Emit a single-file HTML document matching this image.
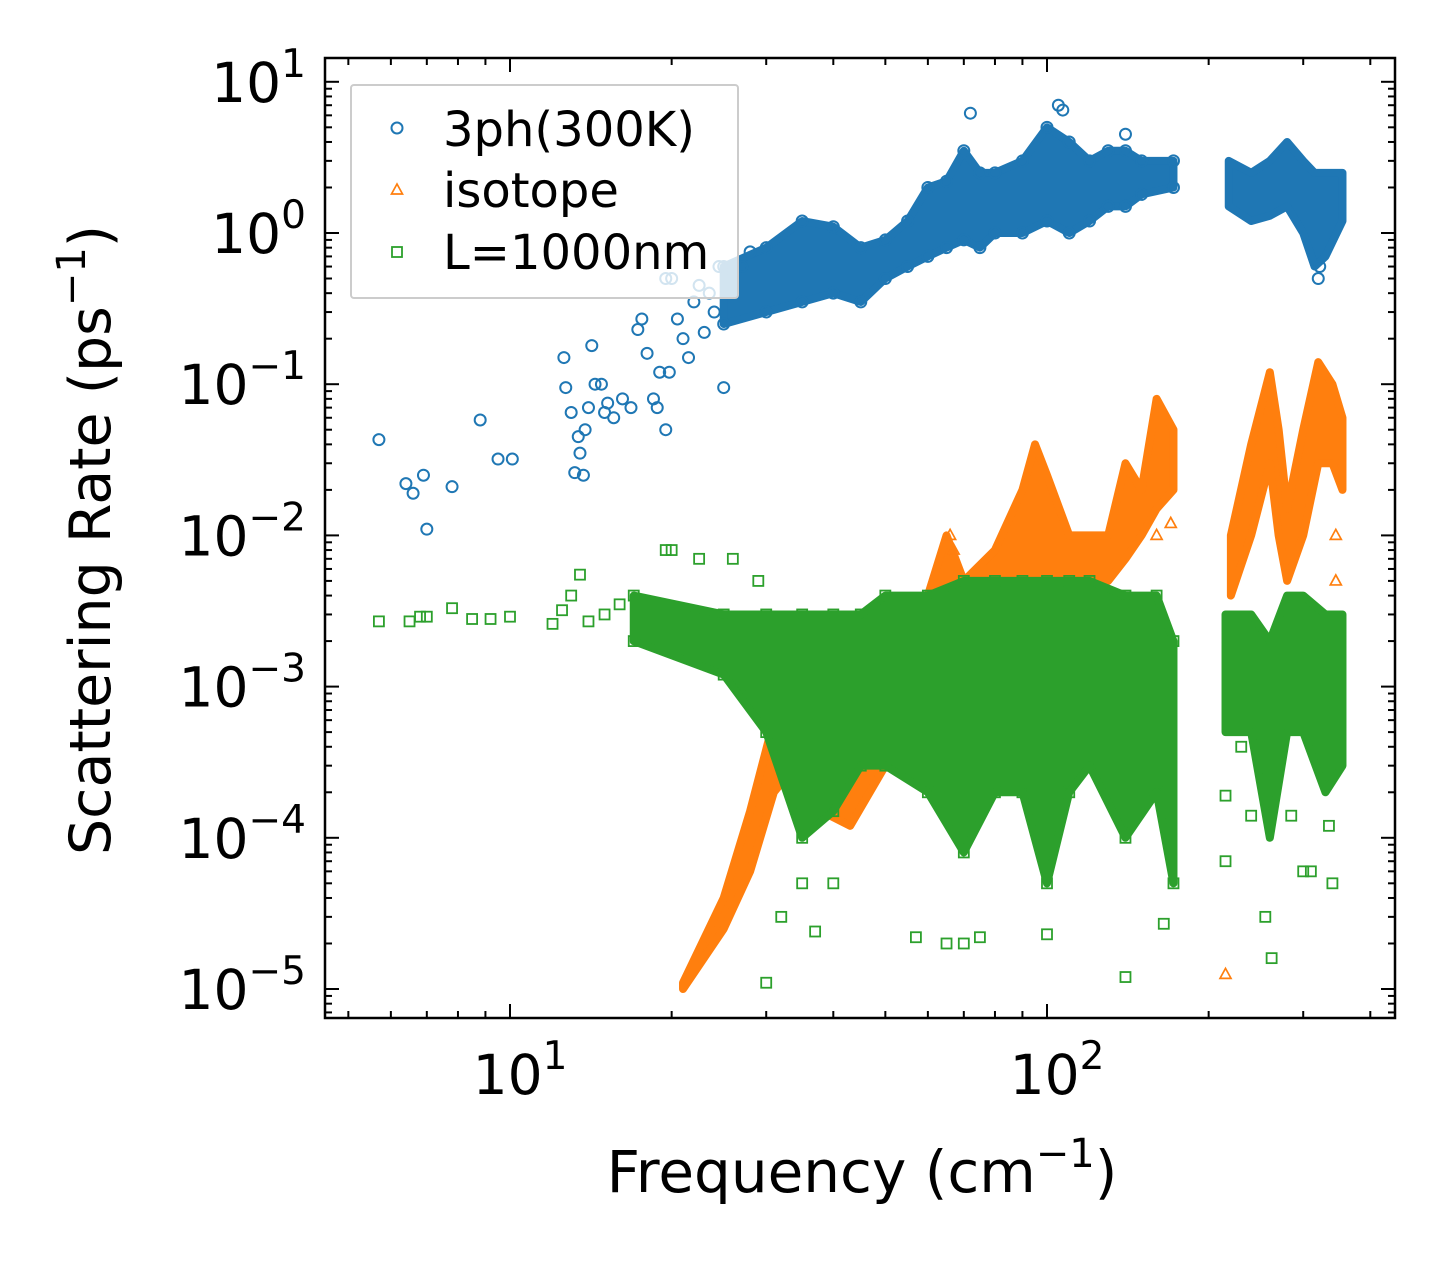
<!DOCTYPE html>
<html><head><meta charset="utf-8"><style>
html,body{margin:0;padding:0;background:#fff}
svg{display:block;font-family:"DejaVu Sans","Liberation Sans",sans-serif}
</style></head><body>
<svg id="c" width="1455" height="1266" viewBox="0 0 1455 1266">
<rect width="1455" height="1266" fill="#fff"/>
<g id="plot"></g>
<g id="axes"></g>
</svg>
<script>
// ---- data ----
const blueBandF  = [25,30,35,40,45,50,55,60,65,70,75,80,90,100,110,120,130,140,150,172];
const blueBandLo = [0.25,0.3,0.35,0.4,0.35,0.5,0.6,0.7,0.8,0.9,0.8,1.0,1.0,1.2,1.0,1.2,1.5,1.5,1.8,2.0];
const blueBandHi = [0.6,0.8,1.2,1.1,0.8,0.9,1.2,2.0,2.2,3.5,2.5,2.5,3.0,5.0,4.0,3.0,3.5,3.5,3.0,3.0];
const blueBand2F  = [218,240,260,280,300,315,330,355];
const blueBand2Lo = [1.5,1.2,1.3,1.5,1.0,0.6,0.7,1.2];
const blueBand2Hi = [3.0,2.5,3.0,4.0,3.0,2.5,2.5,2.5];
const blueF = [5.7,6.4,6.6,6.9,7.0,7.8,8.8,9.5,10.1,12.6,12.7,13,13.2,13.4,13.5,13.7,13.8,14,14.2,14.4,14.8,15,15.2,15.6,16.2,16.8,17.3,17.6,18,18.5,18.8,19,19.5,19.8,19.5,20,20.5,21,21.5,22,22.5,23,23.5,24,24.5,25,26,27,28,72,105,107,140,320,322];
const blueR = [0.043,0.022,0.019,0.025,0.011,0.021,0.058,0.032,0.032,0.15,0.095,0.065,0.026,0.045,0.035,0.025,0.05,0.07,0.18,0.1,0.1,0.065,0.075,0.06,0.08,0.07,0.23,0.27,0.16,0.08,0.07,0.12,0.05,0.12,0.5,0.5,0.27,0.2,0.15,0.35,0.45,0.22,0.4,0.3,0.6,0.095,0.5,0.6,0.75,6.2,7.0,6.5,4.5,0.5,0.6];

const orBandF  = [21,25,28,31,34,38,43,50,60,65,70,80,90,95,100,110,130,140,150,160,172];
const orBandLo = [1e-5,2.5e-5,6e-5,2e-4,3e-4,1.5e-4,1.2e-4,3e-4,6e-4,1e-3,1e-3,2e-3,4e-3,5e-3,5e-3,5e-3,5e-3,7e-3,1e-2,1.5e-2,2e-2];
const orBandHi = [1.1e-5,4e-5,1.5e-4,6e-4,2e-3,1e-3,1e-3,2e-3,4e-3,1e-2,5e-3,8e-3,2e-2,4e-2,2.5e-2,1e-2,1e-2,3e-2,2e-2,8e-2,5e-2];
const orBand2F  = [220,240,260,270,280,300,320,340,355];
const orBand2Lo = [4e-3,1e-2,3e-2,1e-2,5e-3,1e-2,3e-2,3e-2,2e-2];
const orBand2Hi = [1e-2,4e-2,1.2e-1,5e-2,1.5e-2,5e-2,1.4e-1,1e-1,6e-2];
const orF = [215,345,345,350,170,160,66,67];
const orR = [1.25e-5,1e-2,5e-3,1.5e-3,1.2e-2,1e-2,1e-2,8e-3];

const grBandF  = [17,25,30,35,40,45,50,60,70,80,90,100,110,120,140,160,172];
const grBandLo = [2e-3,1.2e-3,5e-4,1e-4,1.5e-4,3e-4,3e-4,2e-4,8e-5,2e-4,2e-4,5e-5,2e-4,3e-4,1e-4,2e-4,5e-5];
const grBandHi = [4e-3,3e-3,3e-3,3e-3,3e-3,3e-3,4e-3,4e-3,5e-3,5e-3,5e-3,5e-3,5e-3,5e-3,4e-3,4e-3,2e-3];
const grBand2F  = [215,240,260,280,300,330,355];
const grBand2Lo = [5e-4,5e-4,1e-4,5e-4,5e-4,2e-4,3e-4];
const grBand2Hi = [3e-3,3e-3,2e-3,4e-3,4e-3,3e-3,3e-3];
const grF = [5.7,6.5,6.8,7,7.8,8.5,9.2,10,12,12.5,13,13.5,14,15,16,19.5,20,22.5,26,29,30,32,35,37,40,57,65,70,75,100,140,165,215,215,230,240,255,262,285,300,310,335,340,27,30,32];
const grR = [2.7e-3,2.7e-3,2.9e-3,2.9e-3,3.3e-3,2.8e-3,2.8e-3,2.9e-3,2.6e-3,3.2e-3,4e-3,5.5e-3,2.7e-3,3e-3,3.5e-3,8e-3,8e-3,7e-3,7e-3,5e-3,1.1e-5,3e-5,5e-5,2.4e-5,5e-5,2.2e-5,2e-5,2e-5,2.2e-5,2.3e-5,1.2e-5,2.7e-5,7e-5,1.9e-4,4e-4,1.4e-4,3e-5,1.6e-5,1.4e-4,6e-5,6e-5,1.2e-4,5e-5,1e-3,1e-3,4e-4];

const xTickExp = [1,2];
const yTickExp = [1,0,-1,-2,-3,-4,-5];

// ---- axes ----
const L=325,R=1395,T=58,B=1018;
const X0=510, XDEC=537, Y0=233, YDEC=151.2;
const sx = f => X0 + (Math.log10(f)-1)*XDEC;
const sy = v => Y0 - Math.log10(v)*YDEC;
const NS="http://www.w3.org/2000/svg";
const plot=document.getElementById('plot'), axes=document.getElementById('axes');
function mk(tag,attrs,parent){const e=document.createElementNS(NS,tag);for(const k in attrs)e.setAttribute(k,attrs[k]);parent.appendChild(e);return e;}

const clip=mk('clipPath',{id:'cp'},document.getElementById('c'));
mk('rect',{x:L,y:T,width:R-L,height:B-T},clip);
plot.setAttribute('clip-path','url(#cp)');

const BLUE='#1f77b4',OR='#ff7f0e',GR='#2ca02c';
function band(F,lo,hi,color,name){
  let d='M'+F.map((f,i)=>sx(f)+','+sy(hi[i])).join('L');
  d+='L'+F.slice().reverse().map((f,j)=>{const i=F.length-1-j;return sx(f)+','+sy(lo[i]);}).join('L')+'Z';
  const p=mk('path',{d:d,fill:color,stroke:color,'stroke-width':8,'stroke-linejoin':'round'},plot);
  
  
}
function marker(type,x,y,color,parent){
  let e;
  if(type==='o') e=mk('circle',{cx:x,cy:y,r:5.5,fill:'none',stroke:color,'stroke-width':2},parent);
  else if(type==='^') e=mk('path',{d:`M${x},${y-6}L${x+5.5},${y+4}L${x-5.5},${y+4}Z`,fill:'none',stroke:color,'stroke-width':1.7},parent);
  else e=mk('rect',{x:x-5,y:y-5,width:10,height:10,fill:'none',stroke:color,'stroke-width':1.8},parent);
  return e;
}
function pts(F,V,type,color,name){
  F.forEach((f,i)=>{const e=marker(type,sx(f),sy(V[i]),color,plot);
    
    });
}
function bandEdges(F,lo,hi,type,color,name){
  F.forEach((f,i)=>{[lo[i],hi[i]].forEach(v=>{const e=marker(type,sx(f),sy(v),color,plot);
    
    });});
}
band(blueBandF,blueBandLo,blueBandHi,BLUE,'3ph-band');
band(blueBand2F,blueBand2Lo,blueBand2Hi,BLUE,'3ph-band-high');
bandEdges(blueBandF,blueBandLo,blueBandHi,'o',BLUE,'3ph-point');
pts(blueF,blueR,'o',BLUE,'3ph-point');
band(orBandF,orBandLo,orBandHi,OR,'isotope-band');
band(orBand2F,orBand2Lo,orBand2Hi,OR,'isotope-band-high');
pts(orF,orR,'^',OR,'isotope-point');
band(grBandF,grBandLo,grBandHi,GR,'boundary-band');
band(grBand2F,grBand2Lo,grBand2Hi,GR,'boundary-band-high');
bandEdges(grBandF,grBandLo,grBandHi,'s',GR,'boundary-point');
pts(grF,grR,'s',GR,'boundary-point');

// frame
mk('rect',{x:L,y:T,width:R-L,height:B-T,fill:'none',stroke:'#000','stroke-width':2.5},axes);
for(let e=0;e<=2;e++){for(let m=1;m<=9;m++){const f=m*Math.pow(10,e);const x=sx(f);if(x<L||x>R)continue;
  const len=m===1?14:7;
  mk('line',{x1:x,x2:x,y1:B,y2:B-len,stroke:'#000','stroke-width':2},axes);
  mk('line',{x1:x,x2:x,y1:T,y2:T+len,stroke:'#000','stroke-width':2},axes);}}
for(let e=-6;e<=1;e++){for(let m=1;m<=9;m++){const v=m*Math.pow(10,e);const y=sy(v);if(y<T||y>B)continue;
  const len=m===1?14:7;
  mk('line',{x1:L,x2:L+len,y1:y,y2:y,stroke:'#000','stroke-width':2},axes);
  mk('line',{x1:R,x2:R-len,y1:y,y2:y,stroke:'#000','stroke-width':2},axes);}}
function powLabel(x,y,exp,anchor,name){
  const t=mk('text',{x:x,y:y,'font-size':55,'text-anchor':anchor,fill:'#000'},axes);
  
  
  const a=document.createElementNS(NS,'tspan');a.textContent='10';t.appendChild(a);
  const b=document.createElementNS(NS,'tspan');b.setAttribute('dy','-25');b.setAttribute('font-size','39');
  b.textContent=(exp<0?'\u2212'+(-exp):String(exp));t.appendChild(b);
}
xTickExp.forEach(e=>powLabel(sx(Math.pow(10,e))+10,1094,e,'middle','x-tick-label'));
yTickExp.forEach(e=>powLabel(306,sy(Math.pow(10,e))+20,e,'end','y-tick-label'));
</script>
<svg style="position:absolute;left:0;top:0" width="1455" height="1266">
<text x="862" y="1192" font-size="58" text-anchor="middle" font-family="DejaVu Sans, Liberation Sans, sans-serif">Frequency (cm<tspan dy="-25" font-size="40">−1</tspan><tspan dy="25">)</tspan></text>
<text transform="translate(110,540) rotate(-90)" font-size="57" text-anchor="middle" font-family="DejaVu Sans, Liberation Sans, sans-serif">Scattering Rate (ps<tspan dy="-25" font-size="40">−1</tspan><tspan dy="25">)</tspan></text>
<g>
<rect x="351" y="85" width="387" height="213" fill="#fff" fill-opacity="0.8" stroke="#ccc" stroke-width="2" rx="3"/>
<circle cx="397" cy="128" r="5.5" fill="none" stroke="#1f77b4" stroke-width="2"/>
<text x="443" y="146" font-size="48" font-family="DejaVu Sans, Liberation Sans, sans-serif">3ph(300K)</text>
<path d="M397,184L402.5,194L391.5,194Z" fill="none" stroke="#ff7f0e" stroke-width="1.7"/>
<text x="443" y="207" font-size="48" font-family="DejaVu Sans, Liberation Sans, sans-serif">isotope</text>
<rect x="392" y="247" width="10" height="10" fill="none" stroke="#2ca02c" stroke-width="1.8"/>
<text x="443" y="269" font-size="48" font-family="DejaVu Sans, Liberation Sans, sans-serif">L=1000nm</text>
</g>
</svg>
</body></html>
